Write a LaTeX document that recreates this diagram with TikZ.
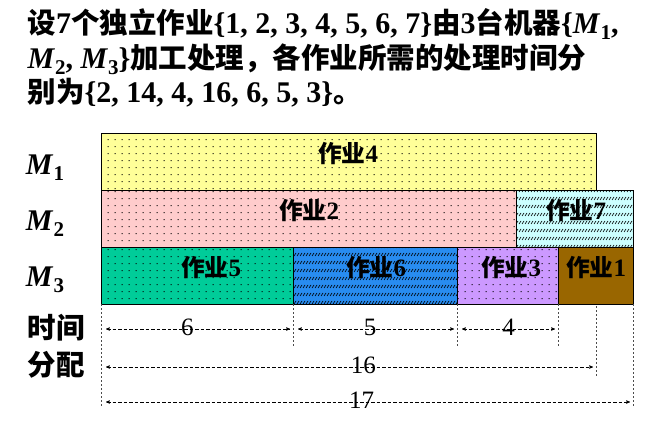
\documentclass[tikz,border=0pt]{standalone}
\usepackage{fontspec}
\setmainfont{Liberation Serif}
\newfontfamily\cjk[Scale=0.95]{Noto Sans CJK SC Bold}
\usetikzlibrary{arrows,patterns}
\tikzset{>=stealth'}

\definecolor{job1}{RGB}{153,102,0}
\definecolor{job2}{RGB}{255,204,204}
\definecolor{job3}{RGB}{204,153,255}
\definecolor{job4}{RGB}{255,255,153}
\definecolor{job5}{RGB}{0,204,153}
\definecolor{job6}{RGB}{40,140,240}
\definecolor{job7}{RGB}{204,255,255}

% dotted and slashed fills
\pgfdeclarepatternformonly{dotgrid}{\pgfqpoint{0pt}{0pt}}{\pgfqpoint{7pt}{6.5pt}}{\pgfqpoint{7pt}{6.5pt}}{%
  \pgfpathrectangle{\pgfqpoint{3pt}{3pt}}{\pgfqpoint{1.1pt}{1.1pt}}%
  \pgfusepath{fill}}
\pgfdeclarepatternformonly{slashes}{\pgfqpoint{-1pt}{-1pt}}{\pgfqpoint{4pt}{9pt}}{\pgfqpoint{3pt}{8pt}}{%
  \pgfsetlinewidth{0.6pt}%
  \pgfpathmoveto{\pgfqpoint{0pt}{2pt}}%
  \pgfpathlineto{\pgfqpoint{2pt}{5pt}}%
  \pgfusepath{stroke}}

\newcommand\zh[1]{{\cjk #1}}
\newcommand\mach[1]{\textit{M}\raisebox{-6pt}{\fontsize{21}{21}\selectfont #1}}

\begin{document}
\begin{tikzpicture}[x=1pt,y=-1pt,
  big/.style={font=\fontsize{30}{30}\selectfont\bfseries},
  bar/.style={draw=black,line width=0.8pt},
  job/.style={font=\fontsize{25}{25}\selectfont\bfseries},
  guide/.style={draw=black!70,dash pattern=on 2pt off 2pt,line width=0.5pt},
  span/.style={<->,dash pattern=on 3.5pt off 2pt,line width=0.5pt,shorten <=5pt,shorten >=3pt},
  num/.style={font=\fontsize{25}{25}\selectfont,yshift=2pt}]
\useasboundingbox (0,0) rectangle (654,426);
    % Problem text
    \node[big,anchor=base west] (line1) at (24,33) {\zh{设}7\zh{个独立作业}\{1, 2, 3, 4, 5, 6, 7\}\zh{由}3\zh{台机器}\{\mach{1},};
    \node[big,anchor=base west] (line2) at (24,68) {\mach{2}, \mach{3}\}\zh{加工处理，各作业所需的处理时间分}};
    \node[big,anchor=base west] (line3) at (24,102) {\zh{别为}\{2, 14, 4, 16, 6, 5, 3\}\zh{。}};
    % Machines
    \node[big] (m1) at (45,168) {\mach{1}};
    \node[big] (m2) at (45,224) {\mach{2}};
    \node[big] (m3) at (45,280) {\mach{3}};
    % Jobs
    \draw[bar,fill=job4,postaction={pattern=dotgrid}] (101,133) rectangle (596,190);
    \draw[bar,fill=job2,postaction={pattern=dotgrid}] (101,190) rectangle (516,247);
    \draw[bar,fill=job7,postaction={pattern=slashes}] (516,190) rectangle (633,247);
    \draw[bar,fill=job5,postaction={pattern=dotgrid}] (101,247) rectangle (293,304);
    \draw[bar,fill=job6,postaction={pattern=slashes}] (293,247) rectangle (457,304);
    \draw[bar,fill=job3,postaction={pattern=dotgrid}] (457,247) rectangle (558,304);
    \draw[bar,fill=job1] (558,247) rectangle (633,304);
    \node[job] (j4) at (348,154) {\zh{作业}4};
    \node[job] (j2) at (309,211) {\zh{作业}2};
    \node[job] (j7) at (576,211) {\zh{作业}7};
    \node[job] (j5) at (211,268) {\zh{作业}5};
    \node[job] (j6) at (376,268) {\zh{作业}6};
    \node[job] (j3) at (511,268) {\zh{作业}3};
    \node[job] (j1) at (596,268) {\zh{作业}1};
    % Time axis
    \node[big] (time1) at (56,328) {\zh{时间}};
    \node[big] (time2) at (56,365) {\zh{分配}};
    \coordinate (t0) at (101,304);
    \coordinate (t1) at (293,304);
    \coordinate (t2) at (457,304);
    \coordinate (t3) at (558,304);
    \coordinate (t4) at (596,306);
    \coordinate (t5) at (633,304);
    \coordinate (r1) at (0,329);
    \coordinate (r2) at (0,367);
    \coordinate (r3) at (0,402);
    \draw[guide] (t0) -- +(0,103);
    \draw[guide] (t1) -- +(0,43);
    \draw[guide] (t2) -- +(0,43);
    \draw[guide] (t3) -- +(0,43);
    \draw[guide] (t4) -- +(0,71);
    \draw[guide] (t5) -- +(0,103);
    \draw[span] (t0 |- r1) -- (t1 |- r1) node[num,pos=0.45] {6};
    \draw[span] (t1 |- r1) -- (t2 |- r1) node[num,pos=0.47] {5};
    \draw[span] (t2 |- r1) -- (t3 |- r1) node[num,pos=0.51] {4};
    \draw[span] (t0 |- r2) -- (t4 |- r2) node[num,pos=0.53] {16};
    \draw[span] (t0 |- r3) -- (t5 |- r3) node[num,pos=0.49] {17};

\end{tikzpicture}
\end{document}
